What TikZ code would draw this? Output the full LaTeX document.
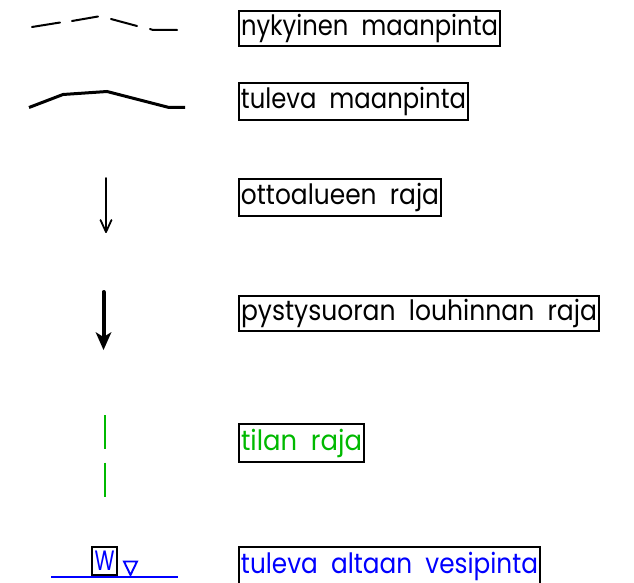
\documentclass[tikz,border=0pt]{standalone}
\usepackage{fontspec}
\usepackage{graphicx}
\setmainfont{Poppins}
\definecolor{grn}{RGB}{0,185,0}
\definecolor{blu}{RGB}{0,0,255}
\newcommand{\fit}[2]{\raisebox{-2pt}{\resizebox{#1pt}{\height}{#2}}}
\tikzset{x=1pt,y=-1pt,
 lab/.style={draw=black,line width=2.8pt,inner sep=0pt,minimum height=#1pt,anchor=center,font=\fontsize{28}{28}\selectfont},
 lab/.default=36,
 thin line/.style={line width=2pt,black,line cap=round},
 thick line/.style={line width=3pt,black}}
\begin{document}
\begin{tikzpicture}
\useasboundingbox (0,0) rectangle (634,583);
\begin{scope}
\clip (0,0) rectangle (634,583);
\node[lab=35,minimum width=261pt] (a) at (369.5,28.5) {\fit{257}{nykyinen\ \ maanpinta}};
\node[lab=37,minimum width=229pt] (b) at (353.5,101.5) {\fit{225}{tuleva\ \ maanpinta}};
\node[lab=37,minimum width=202pt] (c) at (340,197.5) {\fit{198}{ottoalueen\ \ raja}};
\node[lab=35,minimum width=360pt] (d) at (419,313.5) {\fit{356}{pystysuoran\ \ louhinnan\ \ raja}};
\node[lab=38,minimum width=125pt] (e) at (301.5,443) {\color{grn}\fit{121}{tilan\ \ raja}};
\node[lab=38,minimum width=301pt] (f) at (389.5,566) {\color{blu}\fit{297}{tuleva\ \ altaan\ \ vesipinta}};
\end{scope}
\draw[thin line] (32,27) -- (60,22.5) (72,21) -- (98,16.5) (111,19) -- (137,26) (150,29) -- (153,30) -- (177,30);
\draw[thick line] (29,107.5) -- (63,94.5) -- (107,91.5) -- (169,107.5) -- (185,107.5);
\draw[line width=1.8pt,line cap=round,line join=round] (106,178) -- (106,232);
\draw[line width=1.8pt,line cap=round,line join=round] (100.5,220) -- (106,232) -- (111.5,220);
\draw[line width=4pt,line cap=round] (103.5,292) -- (103.5,344);
\fill[black] (103.5,350) -- (95.5,332) -- (103.5,337) -- (111.5,332) -- cycle;
\draw[line width=2pt,grn] (105,415) -- (105,448.5) (105,462.5) -- (105,497);
\draw[line width=2pt,blu] (51,577) -- (178,577);
\draw[line width=1.9pt,blu,line join=miter] (124,561.5) -- (137,561.5) -- (130.5,575) -- cycle;
\node[draw=black,line width=2.8pt,minimum width=25pt,minimum height=28pt,inner sep=0pt,font=\fontsize{28}{28}\selectfont] (w) at (104.5,561) {\color{blu}\resizebox{20pt}{\height}{W}};
\end{tikzpicture}
\end{document}
